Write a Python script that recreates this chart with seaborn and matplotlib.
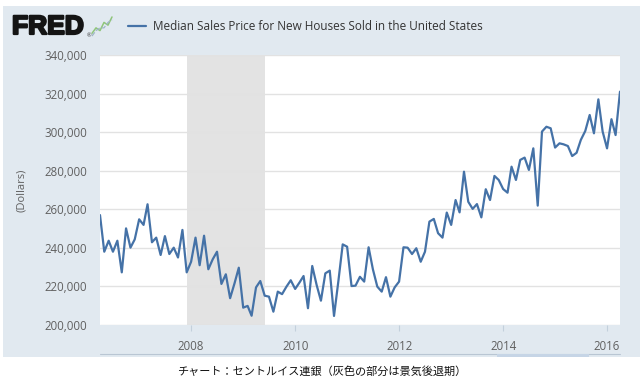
import matplotlib
matplotlib.use("Agg")
import matplotlib.pyplot as plt
import matplotlib.dates as mdates
from matplotlib.patches import Rectangle
from matplotlib.lines import Line2D
import matplotlib.ticker as mticker
import matplotlib.patheffects as pe
import seaborn as sns
import pandas as pd

# ---- data ----
start_month = "2006-04-01"
prices = [
    257000, 238000, 243700, 238000, 243700, 227300, 250100, 240100, 244400, 254800,
    251900, 262600, 242900, 245300, 236300, 246100, 236800, 240100, 235000, 249300,
    227300, 232800, 245300, 231000, 246300, 228900, 234100, 238000, 221300, 226300,
    213900, 221600, 229700, 209000, 209900, 204800, 219500, 222800, 215200, 214700,
    206900, 217300, 216000, 219900, 223200, 218700, 222100, 225400, 208700, 230600,
    220700, 212600, 226800, 228200, 204700, 223000, 241800, 240600, 220200, 220400,
    225000, 222500, 240300, 228900, 219900, 217300, 224800, 214700, 219500, 222500,
    240300, 240100, 236800, 239800, 232800, 238000, 253600, 255000, 247600, 245300,
    258300, 251900, 264800, 258400, 279500, 263900, 260200, 262700, 255800, 270400,
    264800, 277300, 275200, 270500, 268600, 282100, 275200, 285600, 286800, 280400,
    291600, 261900, 300300, 302800, 302000, 292000, 294200, 293700, 292800, 287600,
    289300, 296000, 300600, 308900, 299400, 317000, 300300, 291600, 306700, 298500,
    321000,
]
dates = pd.date_range(start_month, periods=len(prices), freq="MS")
recession_start = "2007-12-01"
recession_end = "2009-06-01"
series_label = "Median Sales Price for New Houses Sold in the United States"
y_label = "(Dollars)"
caption = "チャート：セントルイス連銀（灰色の部分は景気後退期）"
icon_a = [1, 3, 2, 5, 4, 7]
icon_b = [0, 2, 3, 3, 5, 6]

df = pd.DataFrame({"date": dates, "price": prices})

# ---- style ----
sns.set_theme(style="white")
plt.rcParams["font.family"] = ["Open Sans", "DejaVu Sans"]

W, H = 643, 385
fig = plt.figure(figsize=(W / 100, H / 100), dpi=100, facecolor="white")

def fx(px):
    return px / W

def fy(py):
    return 1 - py / H

panel_col = "#e1e9f0"
fig.add_artist(Rectangle((fx(3), fy(357)), fx(637), (357 - 6) / H,
                         transform=fig.transFigure, facecolor=panel_col,
                         edgecolor="none", zorder=0))
# navigator remnants
fig.add_artist(Line2D([fx(100), fx(620)], [fy(353.5), fy(353.5)],
                      transform=fig.transFigure, color="#b9c6d3", lw=0.8, zorder=1))
fig.add_artist(Rectangle((fx(497), fy(357)), fx(92), 3 / H,
                         transform=fig.transFigure, facecolor="#c6d5e6",
                         edgecolor="none", zorder=1))

ax = fig.add_axes([fx(100), fy(325), fx(520), (325 - 55) / H])
ax.set_facecolor("white")

ax.axvspan(pd.Timestamp(recession_start), pd.Timestamp(recession_end),
           color="#e3e3e3", lw=0, zorder=0.5)

line_col = "#4572a7"
sns.lineplot(data=df, x="date", y="price", ax=ax, color=line_col,
             linewidth=1.6, label=series_label, zorder=3)

ax.set_xlim(dates[0], dates[-1])
ax.set_ylim(200000, 340000)
ax.yaxis.set_major_locator(mticker.MultipleLocator(20000))
ax.yaxis.set_major_formatter(mticker.FuncFormatter(lambda v, p: f"{v:,.0f}"))
ax.xaxis.set_major_locator(mdates.YearLocator(2))
ax.xaxis.set_major_formatter(mdates.DateFormatter("%Y"))

ax.grid(axis="y", color="#e2e2e2", lw=1.0, zorder=1)
ax.grid(axis="x", visible=False)
for s in ax.spines.values():
    s.set_visible(False)

ax.tick_params(axis="y", length=0, pad=9.5, labelsize=8.3, labelcolor="#606060")
ax.tick_params(axis="x", length=4, width=0.8, color="#c3d0dc", direction="out",
               pad=7, labelsize=8.3, labelcolor="#606060")
ax.xaxis.set_tick_params(bottom=True)
ax.set_xlabel("")
ax.set_ylabel("")

fig.text(fx(22), fy(190), y_label, rotation=90, ha="center", va="center",
         fontsize=8, color="#606060")

leg = ax.legend(loc="center left", bbox_to_anchor=(fx(128), fy(27)),
                bbox_transform=fig.transFigure, frameon=False, fontsize=8.5,
                handlelength=1.5, handletextpad=0.6, borderpad=0, borderaxespad=0)
for t in leg.get_texts():
    t.set_color("#333333")

fig.text(fx(12), fy(27), "FRED", fontsize=19, fontweight="bold",
         family=["Liberation Sans", "DejaVu Sans"], color="#141414",
         ha="left", va="center",
         path_effects=[pe.withStroke(linewidth=1.6, foreground="#141414")])
fig.text(fx(87), fy(36), "®", fontsize=4, color="#333333", ha="left", va="center")

iax = fig.add_axes([fx(91), fy(37), fx(22), 21 / H])
iax.plot(range(len(icon_a)), icon_a, color="#8fc57a", lw=1.1)
iax.plot(range(len(icon_b)), icon_b, color="#9fb4c8", lw=0.9, ls="--")
iax.set_axis_off()

fig.text(0.5, fy(372), caption, ha="center", va="center", fontsize=8,
         family=["Noto Sans CJK JP", "DejaVu Sans"], color="#111111")

fig.savefig("out.png", dpi=100, facecolor="white")
